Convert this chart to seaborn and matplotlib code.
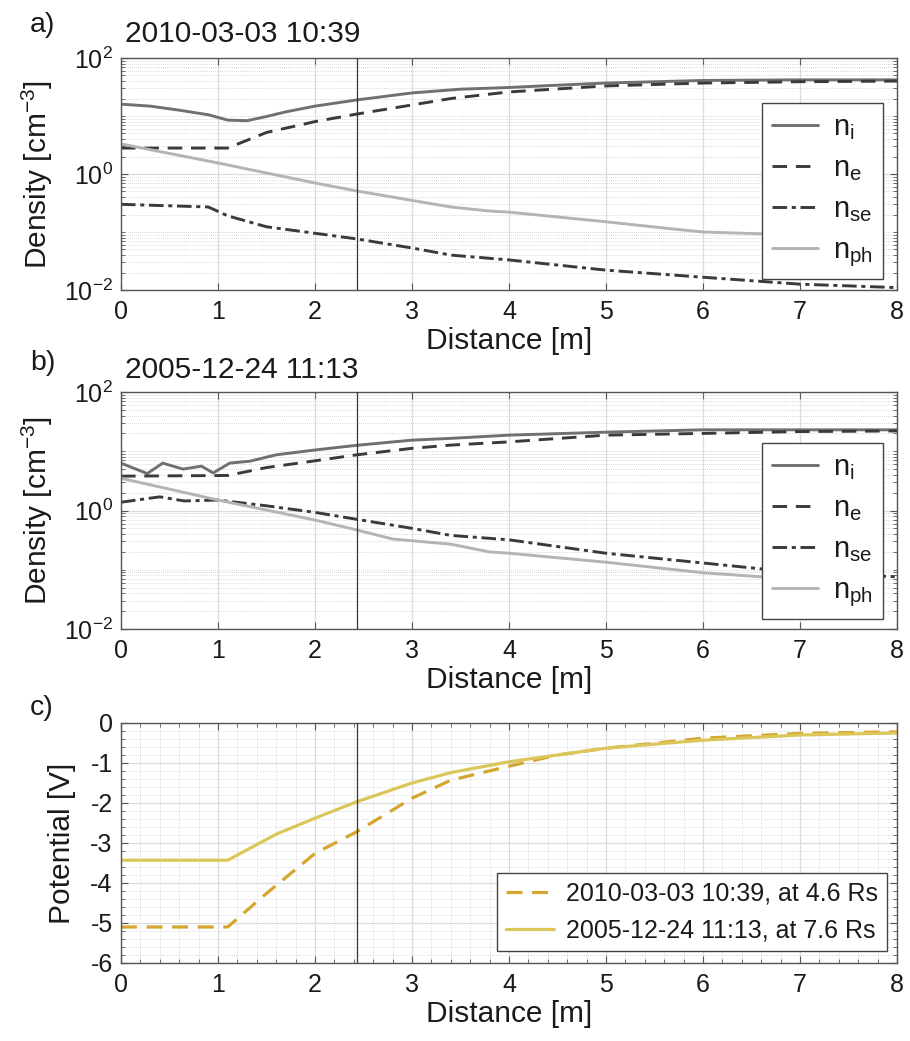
import numpy as np
import pandas as pd
import matplotlib
matplotlib.use("Agg")
import matplotlib.pyplot as plt
import matplotlib.ticker as mticker
import seaborn as sns

# ---------------- data ----------------
# panel a) 2010-03-03 10:39
xa_ni = [0, 0.3, 0.6, 0.9, 1.1, 1.3, 1.5, 1.7, 2.0, 2.43, 3.0, 3.5, 4.0, 4.5, 5.0, 6.0, 7.0, 8.0]
ya_ni = [16, 14.8, 12.6, 10.5, 8.5, 8.3, 9.8, 11.8, 14.8, 18.9, 25, 29, 31, 34, 37, 41, 42, 42]
xa_ne = [0, 1.1, 1.5, 2.0, 2.43, 3.0, 3.4, 4.0, 5.0, 6.0, 7.0, 8.0]
ya_ne = [2.8, 2.8, 5.2, 8.0, 10.8, 15.5, 20, 26, 33, 37, 39, 40]
xa_nse = [0, 0.9, 1.1, 1.5, 2.0, 2.43, 3.0, 3.4, 4.0, 5.0, 6.0, 7.0, 8.0]
ya_nse = [0.30, 0.27, 0.19, 0.123, 0.095, 0.076, 0.053, 0.040, 0.033, 0.022, 0.0166, 0.0126, 0.011]
xa_nph = [0, 1, 2, 2.43, 2.8, 3.4, 3.8, 4.0, 5.0, 5.6, 6.0, 6.6]
ya_nph = [3.3, 1.55, 0.70, 0.51, 0.40, 0.27, 0.23, 0.22, 0.15, 0.117, 0.10, 0.093]

# panel b) 2005-12-24 11:13
xb_ni = [0, 0.27, 0.43, 0.64, 0.83, 0.95, 1.12, 1.33, 1.6, 2.0, 2.43, 3.0, 3.4, 4.0, 5.0, 6.0, 7.0, 8.0]
yb_ni = [6.3, 4.2, 6.3, 5.0, 5.6, 4.3, 6.3, 6.8, 8.7, 10.5, 12.6, 15.4, 16.5, 18.7, 21, 23, 23, 23]
xb_ne = [0, 1.1, 1.5, 2.0, 2.43, 3.0, 3.4, 4.0, 5.0, 6.0, 7.0, 8.0]
yb_ne = [3.8, 3.9, 5.3, 6.9, 8.7, 11.2, 12.7, 14.4, 18.7, 20, 21.5, 22]
xb_nse = [0, 0.4, 0.65, 1.0, 1.5, 2.0, 2.43, 3.0, 3.4, 4.0, 5.0, 6.0, 7.0, 8.0]
yb_nse = [1.38, 1.7, 1.45, 1.5, 1.2, 0.93, 0.71, 0.50, 0.38, 0.32, 0.19, 0.13, 0.089, 0.076]
xb_nph = [0, 1, 2, 2.43, 2.8, 3.4, 3.8, 4.0, 5.0, 6.0, 6.6]
yb_nph = [3.5, 1.5, 0.69, 0.47, 0.33, 0.27, 0.20, 0.19, 0.134, 0.089, 0.076]

# panel c) potential
xc_2010 = [0, 1.1, 1.5, 2.0, 2.43, 3.0, 3.4, 4.0, 4.5, 5.0, 6.0, 7.0, 8.0]
yc_2010 = [-5.1, -5.1, -4.26, -3.26, -2.72, -1.88, -1.43, -1.08, -0.8, -0.63, -0.38, -0.26, -0.22]
xc_2005 = [0, 1.1, 1.6, 2.0, 2.43, 3.0, 3.4, 4.0, 5.0, 6.0, 7.0, 8.0]
yc_2005 = [-3.43, -3.43, -2.78, -2.38, -1.97, -1.5, -1.24, -0.97, -0.63, -0.43, -0.30, -0.25]

density_labels = ["$\\mathregular{n_{i}}$", "$\\mathregular{n_{e}}$",
                  "$\\mathregular{n_{se}}$", "$\\mathregular{n_{ph}}$"]
potential_labels = ["2010-03-03 10:39, at 4.6 Rs", "2005-12-24 11:13, at 7.6 Rs"]
titles = ["2010-03-03 10:39", "2005-12-24 11:13"]
panel_tags = ["a)", "b)", "c)"]
probe_x = 2.43

# ---------------- style ----------------
sns.set_theme(style="ticks")
plt.rcParams["font.family"] = ["Liberation Sans", "DejaVu Sans"]
plt.rcParams["mathtext.fontset"] = "custom"
plt.rcParams["mathtext.rm"] = "Liberation Sans"
plt.rcParams["mathtext.it"] = "Liberation Sans:italic"
plt.rcParams["axes.unicode_minus"] = False

TICK_FS = 18
LABEL_FS = 21.5
LEG_FS = 18
TEXT_C = "#1a1a1a"

fig = plt.figure(figsize=(9.10, 10.41), dpi=100)

positions = [
    [121 / 910, 1 - 290 / 1041, 776 / 910, 232 / 1041],
    [121 / 910, 1 - 629 / 1041, 776 / 910, 237 / 1041],
    [121 / 910, 1 - 963 / 1041, 776 / 910, 240 / 1041],
]
legend_tops = [0.806, 0.785]

col_ni = "#707070"
col_ne = "#3a3a3a"
col_nse = "#3a3a3a"
col_nph = "#b4b4b4"
ls_ni = "-"
ls_ne = (0, (5, 3))
ls_nse = (0, (5, 1.6, 1.4, 1.6))
ls_nph = "-"
LW = 2.1


def style_axes(ax, log):
    ax.set_xlim(0, 8)
    ax.xaxis.set_major_locator(mticker.MultipleLocator(1))
    for sp in ax.spines.values():
        sp.set_color("#555555")
        sp.set_linewidth(1.0)
    ax.tick_params(which="both", direction="in", top=True, right=True,
                   colors="#555555", labelcolor=TEXT_C, labelsize=TICK_FS)
    ax.tick_params(which="major", length=5, width=0.8)
    ax.tick_params(which="minor", length=3, width=0.6)
    ax.tick_params(axis="x", pad=7)
    ax.tick_params(axis="y", pad=6)
    ax.grid(True, which="major", color="#dcdcdc", linewidth=0.9, linestyle="-")
    if log:
        ax.grid(True, which="minor", axis="y", color="#cccccc", linewidth=0.6, linestyle=(0, (1, 1.5)))
    else:
        ax.grid(True, which="minor", color="#d0d0d0", linewidth=0.6, linestyle=(0, (1, 1.5)))
    ax.set_axisbelow(True)
    ax.axvline(probe_x, color="#333333", linewidth=0.9, zorder=3)
    ax.set_xlabel("Distance [m]", fontsize=LABEL_FS, color=TEXT_C, labelpad=2)


def density_panel(ax, series, leg_top):
    for (xs, ys), col, ls, lab in zip(series, [col_ni, col_ne, col_nse, col_nph],
                                      [ls_ni, ls_ne, ls_nse, ls_nph], density_labels):
        df = pd.DataFrame({"Distance": xs, "Density": ys})
        sns.lineplot(data=df, x="Distance", y="Density", ax=ax, color=col,
                     linestyle=ls, linewidth=LW, label=lab, sort=False)
    ax.set_yscale("log")
    ax.set_ylim(1e-2, 1e2)
    ax.yaxis.set_major_locator(mticker.FixedLocator([1e-2, 1e0, 1e2]))
    ax.yaxis.set_major_formatter(mticker.LogFormatterSciNotation())
    ax.yaxis.set_minor_locator(mticker.LogLocator(base=10, subs=np.arange(1, 10) * 1.0, numticks=30))
    ax.yaxis.set_minor_formatter(mticker.NullFormatter())
    style_axes(ax, log=True)
    ax.set_ylabel("Density [cm$^{\\mathregular{-3}}$]", fontsize=LABEL_FS, color=TEXT_C, labelpad=6)
    leg = ax.legend(loc="upper right", bbox_to_anchor=(0.982, leg_top), fontsize=21,
                    frameon=True, fancybox=False, framealpha=1, edgecolor="#444444",
                    handlelength=1.6, handletextpad=0.5, labelspacing=0.42, borderpad=0.35,
                    borderaxespad=0)
    leg.get_frame().set_linewidth(1.0)
    for t in leg.get_texts():
        t.set_color(TEXT_C)


ax_a = fig.add_axes(positions[0])
density_panel(ax_a, [(xa_ni, ya_ni), (xa_ne, ya_ne), (xa_nse, ya_nse), (xa_nph, ya_nph)], legend_tops[0])

ax_b = fig.add_axes(positions[1])
density_panel(ax_b, [(xb_ni, yb_ni), (xb_ne, yb_ne), (xb_nse, yb_nse), (xb_nph, yb_nph)], legend_tops[1])

ax_c = fig.add_axes(positions[2])
df10 = pd.DataFrame({"Distance": xc_2010, "Potential": yc_2010})
df05 = pd.DataFrame({"Distance": xc_2005, "Potential": yc_2005})
sns.lineplot(data=df10, x="Distance", y="Potential", ax=ax_c, color="#D5A62F",
             linestyle=(0, (5, 3)), linewidth=2.3, label=potential_labels[0], sort=False)
sns.lineplot(data=df05, x="Distance", y="Potential", ax=ax_c, color="#DCC65A",
             linestyle="-", linewidth=2.3, label=potential_labels[1], sort=False)
ax_c.set_ylim(-6, 0)
ax_c.yaxis.set_major_locator(mticker.MultipleLocator(1))
ax_c.yaxis.set_minor_locator(mticker.MultipleLocator(0.2))
ax_c.xaxis.set_minor_locator(mticker.MultipleLocator(0.2))
ax_c.yaxis.set_major_formatter(mticker.FuncFormatter(lambda v, p: f"{int(round(v))}"))
style_axes(ax_c, log=False)
ax_c.set_ylabel("Potential [V]", fontsize=LABEL_FS, color=TEXT_C, labelpad=10)
legc = ax_c.legend(loc="lower right", bbox_to_anchor=(0.987, 0.05), fontsize=LEG_FS,
                   frameon=True, fancybox=False, framealpha=1, edgecolor="#444444",
                   handlelength=1.9, handletextpad=0.5, labelspacing=0.5, borderpad=0.35,
                   borderaxespad=0)
legc.get_frame().set_linewidth(1.0)
for t in legc.get_texts():
    t.set_color(TEXT_C)

# panel tags and titles
fig.text(30 / 910, 1 - 25 / 1041, panel_tags[0], fontsize=LABEL_FS - 1, color=TEXT_C, va="center")
fig.text(125 / 910, 1 - 34 / 1041, titles[0], fontsize=LABEL_FS, color=TEXT_C, va="center")
fig.text(30 / 910, 1 - 363 / 1041, panel_tags[1], fontsize=LABEL_FS - 1, color=TEXT_C, va="center")
fig.text(125 / 910, 1 - 370 / 1041, titles[1], fontsize=LABEL_FS, color=TEXT_C, va="center")
fig.text(30 / 910, 1 - 708 / 1041, panel_tags[2], fontsize=LABEL_FS - 1, color=TEXT_C, va="center")

fig.savefig("out.png", dpi=100, facecolor="white")
